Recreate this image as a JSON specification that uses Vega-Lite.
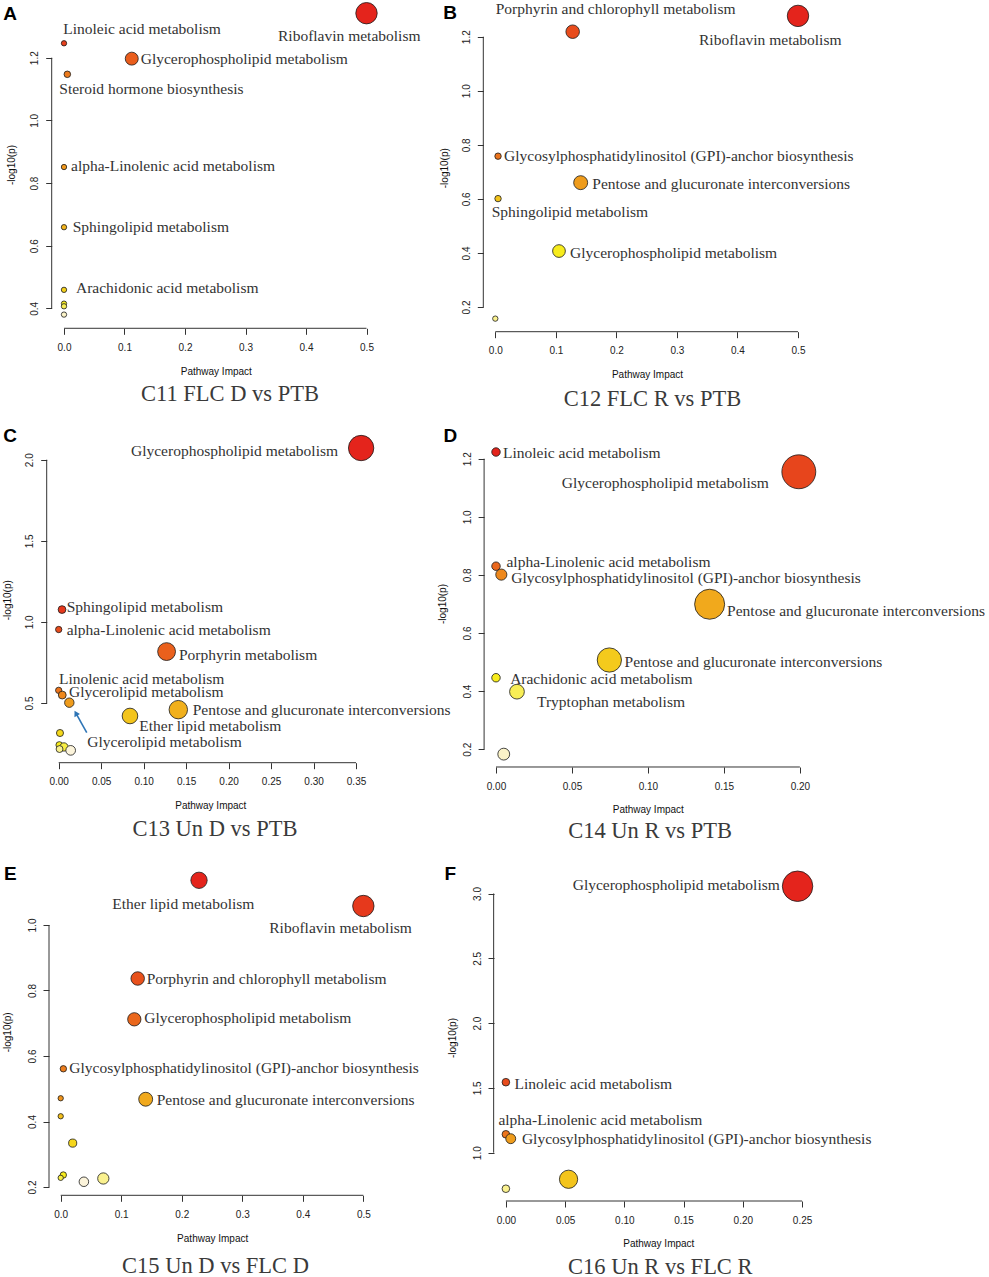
{
"$schema": "https://vega.github.io/schema/vega-lite/v6.json",
"background": "white",
"padding": {"left": 2, "top": 0, "right": 0, "bottom": 0},
"datasets": {
"axA": [{"x":0,"y":0.33631,"x2":0.5,"y2":0.33631},{"x":-0.02033,"y":0.4,"x2":-0.02033,"y2":1.2}],
"axB": [{"x":0,"y":0.10862,"x2":0.5,"y2":0.10862},{"x":-0.01982,"y":0.2,"x2":-0.01982,"y2":1.2}],
"axC": [{"x":0,"y":0.13194,"x2":0.35,"y2":0.13194},{"x":-0.01413,"y":0.5,"x2":-0.01413,"y2":2.0}],
"axD": [{"x":0,"y":0.13873,"x2":0.2,"y2":0.13873},{"x":-0.00783,"y":0.2,"x2":-0.00783,"y2":1.2}],
"axE": [{"x":0,"y":0.17466,"x2":0.5,"y2":0.17466},{"x":-0.01933,"y":0.2,"x2":-0.01933,"y2":1.0}],
"axF": [{"x":0,"y":0.62731,"x2":0.25,"y2":0.62731},{"x":-0.01033,"y":1.0,"x2":-0.01033,"y2":3.0}],
"pA": [{"pathway":"Riboflavin metabolism","x":0.5,"y":1.342},{"pathway":"Linoleic acid metabolism","x":0,"y":1.246},{"pathway":"Glycerophospholipid metabolism","x":0.112,"y":1.197},{"pathway":"Steroid hormone biosynthesis","x":0.0055,"y":1.147},{"pathway":"alpha-Linolenic acid metabolism","x":0,"y":0.851},{"pathway":"Sphingolipid metabolism","x":0,"y":0.659},{"pathway":"Arachidonic acid metabolism","x":0,"y":0.459},{"pathway":"other","x":0,"y":0.415},{"pathway":"other","x":0,"y":0.4065},{"pathway":"other","x":0,"y":0.38}],
"lA": [{"label":"Linoleic acid metabolism","x":-0.0012,"y":1.2906},{"label":"Riboflavin metabolism","x":0.3537,"y":1.2693},{"label":"Glycerophospholipid metabolism","x":0.1268,"y":1.1949},{"label":"Steroid hormone biosynthesis","x":-0.0078,"y":1.1011},{"label":"alpha-Linolenic acid metabolism","x":0.0116,"y":0.8543},{"label":"Sphingolipid metabolism","x":0.0144,"y":0.6596},{"label":"Arachidonic acid metabolism","x":0.0198,"y":0.4659}],
"pB": [{"pathway":"Riboflavin metabolism","x":0.5,"y":1.277},{"pathway":"Porphyrin and chlorophyll metabolism","x":0.1278,"y":1.2185},{"pathway":"Glycosylphosphatidylinositol (GPI)-anchor biosynthesis","x":0.0045,"y":0.758},{"pathway":"Pentose and glucuronate interconversions","x":0.141,"y":0.66},{"pathway":"Sphingolipid metabolism","x":0.0045,"y":0.601},{"pathway":"Glycerophospholipid metabolism","x":0.1052,"y":0.407},{"pathway":"other","x":0,"y":0.157}],
"lB": [{"label":"Porphyrin and chlorophyll metabolism","x":0.0007,"y":1.3014},{"label":"Riboflavin metabolism","x":0.3365,"y":1.1867},{"label":"Glycosylphosphatidylinositol (GPI)-anchor biosynthesis","x":0.0144,"y":0.7586},{"label":"Pentose and glucuronate interconversions","x":0.1602,"y":0.6539},{"label":"Sphingolipid metabolism","x":-0.0059,"y":0.5526},{"label":"Glycerophospholipid metabolism","x":0.1234,"y":0.4009}],
"pC": [{"pathway":"Glycerophospholipid metabolism","x":0.356,"y":2.072},{"pathway":"Sphingolipid metabolism","x":0.0039,"y":1.076},{"pathway":"alpha-Linolenic acid metabolism","x":0,"y":0.953},{"pathway":"Porphyrin metabolism","x":0.127,"y":0.817},{"pathway":"Linolenic acid metabolism","x":0,"y":0.578},{"pathway":"Glycerolipid metabolism","x":0.0042,"y":0.549},{"pathway":"Glycerolipid metabolism","x":0.0125,"y":0.502},{"pathway":"Pentose and glucuronate interconversions","x":0.1408,"y":0.459},{"pathway":"Ether lipid metabolism","x":0.0839,"y":0.42},{"pathway":"other","x":0.0015,"y":0.315},{"pathway":"other","x":0.0007,"y":0.241},{"pathway":"other","x":0.0062,"y":0.229},{"pathway":"other","x":0.001,"y":0.216},{"pathway":"other","x":0.0141,"y":0.208}],
"lC": [{"label":"Glycerophospholipid metabolism","x":0.0851,"y":2.0536},{"label":"Sphingolipid metabolism","x":0.0094,"y":1.0937},{"label":"alpha-Linolenic acid metabolism","x":0.0094,"y":0.9519},{"label":"Porphyrin metabolism","x":0.1416,"y":0.7959},{"label":"Linolenic acid metabolism","x":0.0004,"y":0.6498},{"label":"Glycerolipid metabolism","x":0.0121,"y":0.5697},{"label":"Pentose and glucuronate interconversions","x":0.1577,"y":0.4587},{"label":"Ether lipid metabolism","x":0.0949,"y":0.36},{"label":"Glycerolipid metabolism","x":0.0337,"y":0.2614}],
"arrowC": [{"x":0.033,"y":0.3169,"x2":0.0202,"y2":0.4371}],
"arrowHeadC": [{"x":0.0202,"y":0.4371}],
"pD": [{"pathway":"Linoleic acid metabolism","x":0,"y":1.223},{"pathway":"Glycerophospholipid metabolism","x":0.1993,"y":1.155},{"pathway":"alpha-Linolenic acid metabolism","x":0,"y":0.83},{"pathway":"Glycosylphosphatidylinositol (GPI)-anchor biosynthesis","x":0.0035,"y":0.801},{"pathway":"Pentose and glucuronate interconversions","x":0.1406,"y":0.699},{"pathway":"Pentose and glucuronate interconversions","x":0.0746,"y":0.507},{"pathway":"Arachidonic acid metabolism","x":0,"y":0.446},{"pathway":"Tryptophan metabolism","x":0.0138,"y":0.398},{"pathway":"other","x":0.0051,"y":0.183}],
"lD": [{"label":"Linoleic acid metabolism","x":0.0046,"y":1.2207},{"label":"Glycerophospholipid metabolism","x":0.0433,"y":1.1174},{"label":"alpha-Linolenic acid metabolism","x":0.0069,"y":0.8444},{"label":"Glycosylphosphatidylinositol (GPI)-anchor biosynthesis","x":0.01,"y":0.7883},{"label":"Pentose and glucuronate interconversions","x":0.1521,"y":0.6757},{"label":"Pentose and glucuronate interconversions","x":0.0846,"y":0.5012},{"label":"Arachidonic acid metabolism","x":0.0093,"y":0.4406},{"label":"Tryptophan metabolism","x":0.027,"y":0.3625}],
"pE": [{"pathway":"Ether lipid metabolism","x":0.2285,"y":1.1365},{"pathway":"Riboflavin metabolism","x":0.5,"y":1.058},{"pathway":"Porphyrin and chlorophyll metabolism","x":0.1272,"y":0.8366},{"pathway":"Glycerophospholipid metabolism","x":0.1216,"y":0.712},{"pathway":"Glycosylphosphatidylinositol (GPI)-anchor biosynthesis","x":0.0044,"y":0.561},{"pathway":"other","x":0,"y":0.471},{"pathway":"Pentose and glucuronate interconversions","x":0.1404,"y":0.468},{"pathway":"other","x":0,"y":0.416},{"pathway":"other","x":0.0198,"y":0.334},{"pathway":"other","x":0.0043,"y":0.2366},{"pathway":"other","x":0,"y":0.228},{"pathway":"other","x":0.0704,"y":0.226},{"pathway":"other","x":0.0383,"y":0.216}],
"lE": [{"label":"Ether lipid metabolism","x":0.0852,"y":1.065},{"label":"Riboflavin metabolism","x":0.3446,"y":0.9899},{"label":"Porphyrin and chlorophyll metabolism","x":0.1421,"y":0.836},{"label":"Glycerophospholipid metabolism","x":0.1381,"y":0.7169},{"label":"Glycosylphosphatidylinositol (GPI)-anchor biosynthesis","x":0.0142,"y":0.5634},{"label":"Pentose and glucuronate interconversions","x":0.1586,"y":0.4666}],
"pF": [{"pathway":"Glycerophospholipid metabolism","x":0.2462,"y":3.056},{"pathway":"Linoleic acid metabolism","x":0,"y":1.544},{"pathway":"alpha-Linolenic acid metabolism","x":0,"y":1.142},{"pathway":"Glycosylphosphatidylinositol (GPI)-anchor biosynthesis","x":0.0041,"y":1.108},{"pathway":"other","x":0.0529,"y":0.795},{"pathway":"other","x":0,"y":0.722}],
"lF": [{"label":"Glycerophospholipid metabolism","x":0.0564,"y":3.0633},{"label":"Linoleic acid metabolism","x":0.0073,"y":1.5278},{"label":"alpha-Linolenic acid metabolism","x":-0.0063,"y":1.25},{"label":"Glycosylphosphatidylinositol (GPI)-anchor biosynthesis","x":0.0135,"y":1.108}]
},
"concat": [
{"width": 327, "height": 327,
 "title": {"text": "C11 FLC D vs PTB", "offset": 7.2, "dx": 17.5, "frame": "group"},
 "encoding": {
  "x": {"field": "x", "type": "quantitative", "scale": {"domain": [-0.02479, 0.5157], "nice": false, "zero": false}, "axis": {"title": "Pathway Impact", "values": [0,0.1,0.2,0.3,0.4,0.5], "format": ".1f", "offset": -2.7, "titleX": 166.8, "titleY": 42.7}},
  "y": {"field": "y", "type": "quantitative", "scale": {"domain": [0.32764, 1.3714], "nice": false, "zero": false}, "axis": {"title": "-log10(p)", "values": [0.4,0.6,0.8,1.0,1.2], "format": ".1f", "offset": -2.7, "titleX": -40, "titleY": 160.5}}
 },
 "layer": [
  {"data": {"name": "axA"}, "mark": {"type": "rule", "color": "#333", "strokeWidth": 1}, "encoding": {"x2": {"field": "x2"}, "y2": {"field": "y2"}}},
  {"data": {"name": "pA"}, "mark": {"type": "circle", "opacity": 1, "stroke": "#1a1a1a", "strokeWidth": 0.8}, "encoding": {
    "color": {"field": "y", "type": "quantitative", "scale": {"domain": [0.38,0.4065,0.415,0.459,0.659,0.851,1.147,1.197,1.246,1.342], "range": ["#FBF3C8","#F8EE56","#F7EC1C","#F4D01C","#F2B31C","#EF971C","#EC7A1C","#E95D1C","#E7401C","#E4241C"], "interpolate": "rgb"}, "legend": null},
    "size": {"field": "x", "type": "quantitative", "scale": {"type": "pow", "exponent": 0.75, "domain": [0, 0.5], "range": [28.6, 457.3]}, "legend": null}}},
  {"data": {"name": "lA"}, "mark": {"type": "text", "align": "left", "baseline": "middle", "font": "Liberation Serif", "fontSize": 15.5, "color": "#333"}, "encoding": {"text": {"field": "label"}}},
  {"data": {"values": [{"letter": "A", "x": -0.1003, "y": 1.3194}]}, "mark": {"type": "text", "align": "left", "baseline": "alphabetic", "font": "Liberation Sans", "fontSize": 19, "fontWeight": "bold", "color": "#000"}, "encoding": {"text": {"field": "letter"}}}
 ]},
{"width": 327, "height": 327,
 "title": {"text": "C12 FLC R vs PTB", "offset": 8.2, "dx": 5, "frame": "group"},
 "encoding": {
  "x": {"field": "x", "type": "quantitative", "scale": {"domain": [-0.01867, 0.52148], "nice": false, "zero": false}, "axis": {"title": "Pathway Impact", "values": [0,0.1,0.2,0.3,0.4,0.5], "format": ".1f", "offset": 0.7, "titleX": 163, "titleY": 42.7}},
  "y": {"field": "y", "type": "quantitative", "scale": {"domain": [0.11121, 1.32098], "nice": false, "zero": false}, "axis": {"title": "-log10(p)", "values": [0.2,0.4,0.6,0.8,1.0,1.2], "format": ".1f", "offset": 0.7, "titleX": -39.3, "titleY": 163.7}}
 },
 "layer": [
  {"data": {"name": "axB"}, "mark": {"type": "rule", "color": "#333", "strokeWidth": 1}, "encoding": {"x2": {"field": "x2"}, "y2": {"field": "y2"}}},
  {"data": {"name": "pB"}, "mark": {"type": "circle", "opacity": 1, "stroke": "#1a1a1a", "strokeWidth": 0.8}, "encoding": {
    "color": {"field": "y", "type": "quantitative", "scale": {"domain": [0.157,0.407,0.601,0.66,0.758,1.2185,1.277], "range": ["#FAF18F","#F7EC1C","#F3C41C","#EF9C1C","#EC741C","#E84C1C","#E4241C"], "interpolate": "rgb"}, "legend": null},
    "size": {"field": "x", "type": "quantitative", "scale": {"type": "pow", "exponent": 0.75, "domain": [0, 0.5], "range": [28.7, 458.6]}, "legend": null}}},
  {"data": {"name": "lB"}, "mark": {"type": "text", "align": "left", "baseline": "middle", "font": "Liberation Serif", "fontSize": 15.5, "color": "#333"}, "encoding": {"text": {"field": "label"}}},
  {"data": {"values": [{"letter": "B", "x": -0.0859, "y": 1.2644}]}, "mark": {"type": "text", "align": "left", "baseline": "alphabetic", "font": "Liberation Sans", "fontSize": 19, "fontWeight": "bold", "color": "#000"}, "encoding": {"text": {"field": "letter"}}}
 ]},
{"width": 327, "height": 327,
 "title": {"text": "C13 Un D vs PTB", "offset": 7.8, "dx": 2.5, "frame": "group"},
 "encoding": {
  "x": {"field": "x", "type": "quantitative", "scale": {"domain": [-0.01142, 0.37351], "nice": false, "zero": false}, "axis": {"title": "Pathway Impact", "values": [0,0.05,0.1,0.15,0.2,0.25,0.3,0.35], "format": ".2f", "offset": -2.3, "titleX": 161.3, "titleY": 42.7}},
  "y": {"field": "y", "type": "quantitative", "scale": {"domain": [0.11776, 2.13379], "nice": false, "zero": false}, "axis": {"title": "-log10(p)", "values": [0.5,1.0,1.5,2.0], "format": ".1f", "offset": 2.3, "titleX": -39.4, "titleY": 161.7}}
 },
 "layer": [
  {"data": {"name": "axC"}, "mark": {"type": "rule", "color": "#333", "strokeWidth": 1}, "encoding": {"x2": {"field": "x2"}, "y2": {"field": "y2"}}},
  {"data": {"name": "pC"}, "mark": {"type": "circle", "opacity": 1, "stroke": "#1a1a1a", "strokeWidth": 0.8}, "encoding": {
    "color": {"field": "y", "type": "quantitative", "scale": {"domain": [0.208,0.216,0.229,0.241,0.315,0.42,0.459,0.502,0.549,0.578,0.817,0.953,1.076,2.072], "range": ["#FCF4DB","#FAF18F","#F8EE43","#F7EC1C","#F5D81C","#F3C41C","#F1B01C","#EF9C1C","#EE881C","#EC741C","#EA601C","#E84C1C","#E6381C","#E4241C"], "interpolate": "rgb"}, "legend": null},
    "size": {"field": "x", "type": "quantitative", "scale": {"type": "pow", "exponent": 0.75, "domain": [0, 0.356], "range": [40.1, 642.3]}, "legend": null}}},
  {"data": {"name": "arrowC"}, "mark": {"type": "rule", "color": "#2E75B6", "strokeWidth": 1.6}, "encoding": {"x2": {"field": "x2"}, "y2": {"field": "y2"}}},
  {"data": {"name": "arrowHeadC"}, "mark": {"type": "point", "shape": "triangle-up", "filled": true, "opacity": 1, "color": "#2E75B6", "size": 40, "angle": 331}},
  {"data": {"name": "lC"}, "mark": {"type": "text", "align": "left", "baseline": "middle", "font": "Liberation Serif", "fontSize": 15.5, "color": "#333"}, "encoding": {"text": {"field": "label"}}},
  {"data": {"values": [{"letter": "C", "x": -0.0652, "y": 2.111}]}, "mark": {"type": "text", "align": "left", "baseline": "alphabetic", "font": "Liberation Sans", "fontSize": 19, "fontWeight": "bold", "color": "#000"}, "encoding": {"text": {"field": "letter"}}}
 ]},
{"width": 327, "height": 327,
 "title": {"text": "C14 Un R vs PTB", "offset": 5.2, "dx": 2.6, "frame": "group"},
 "encoding": {
  "x": {"field": "x", "type": "quantitative", "scale": {"domain": [-0.0079, 0.20732], "nice": false, "zero": false}, "axis": {"title": "Pathway Impact", "values": [0,0.05,0.1,0.15,0.2], "format": ".2f", "offset": 2, "titleX": 163.8, "titleY": 42.7}},
  "y": {"field": "y", "type": "quantitative", "scale": {"domain": [0.14561, 1.27126], "nice": false, "zero": false}, "axis": {"title": "-log10(p)", "values": [0.2,0.4,0.6,0.8,1.0,1.2], "format": ".1f", "offset": -0.1, "titleX": -41.3, "titleY": 165.5}}
 },
 "layer": [
  {"data": {"name": "axD"}, "mark": {"type": "rule", "color": "#333", "strokeWidth": 1}, "encoding": {"x2": {"field": "x2"}, "y2": {"field": "y2"}}},
  {"data": {"name": "pD"}, "mark": {"type": "circle", "opacity": 1, "stroke": "#1a1a1a", "strokeWidth": 0.8}, "encoding": {
    "color": {"field": "y", "type": "quantitative", "scale": {"domain": [0.183,0.398,0.446,0.507,0.699,0.801,0.83,1.155,1.223], "range": ["#FBF3C8","#F8EE56","#F7EC1C","#F4CA1C","#F1A91C","#EE881C","#EA671C","#E7451C","#E4241C"], "interpolate": "rgb"}, "legend": null},
    "size": {"field": "x", "type": "quantitative", "scale": {"type": "pow", "exponent": 0.75, "domain": [0, 0.1993], "range": [71.9, 1150.3]}, "legend": null}}},
  {"data": {"name": "lD"}, "mark": {"type": "text", "align": "left", "baseline": "middle", "font": "Liberation Serif", "fontSize": 15.5, "color": "#333"}, "encoding": {"text": {"field": "label"}}},
  {"data": {"values": [{"letter": "D", "x": -0.0346, "y": 1.2585}]}, "mark": {"type": "text", "align": "left", "baseline": "alphabetic", "font": "Liberation Sans", "fontSize": 19, "fontWeight": "bold", "color": "#000"}, "encoding": {"text": {"field": "letter"}}}
 ]},
{"width": 327, "height": 327,
 "title": {"text": "C15 Un D vs FLC D", "offset": 12, "dx": 3, "frame": "group"},
 "encoding": {
  "x": {"field": "x", "type": "quantitative", "scale": {"domain": [-0.01933, 0.5209], "nice": false, "zero": false}, "axis": {"title": "Pathway Impact", "values": [0,0.1,0.2,0.3,0.4,0.5], "format": ".1f", "offset": -3.7, "titleX": 163.2, "titleY": 42.7}},
  "y": {"field": "y", "type": "quantitative", "scale": {"domain": [0.16336, 1.16183], "nice": false, "zero": false}, "axis": {"title": "-log10(p)", "values": [0.2,0.4,0.6,0.8,1.0], "format": ".1f", "offset": 0, "titleX": -41.7, "titleY": 159.8}}
 },
 "layer": [
  {"data": {"name": "axE"}, "mark": {"type": "rule", "color": "#333", "strokeWidth": 1}, "encoding": {"x2": {"field": "x2"}, "y2": {"field": "y2"}}},
  {"data": {"name": "pE"}, "mark": {"type": "circle", "opacity": 1, "stroke": "#1a1a1a", "strokeWidth": 0.8}, "encoding": {
    "color": {"field": "y", "type": "quantitative", "scale": {"domain": [0.216,0.226,0.228,0.2366,0.334,0.416,0.468,0.471,0.561,0.712,0.8366,1.058,1.1365], "range": ["#FCF4DB","#FAF18F","#F8EE43","#F7EC1C","#F5D61C","#F3BF1C","#F1A91C","#EF931C","#EC7D1C","#EA671C","#E8511C","#E6391C","#E4241C"], "interpolate": "rgb"}, "legend": null},
    "size": {"field": "x", "type": "quantitative", "scale": {"type": "pow", "exponent": 0.75, "domain": [0, 0.5], "range": [28.5, 456.6]}, "legend": null}}},
  {"data": {"name": "lE"}, "mark": {"type": "text", "align": "left", "baseline": "middle", "font": "Liberation Serif", "fontSize": 15.5, "color": "#333"}, "encoding": {"text": {"field": "label"}}},
  {"data": {"values": [{"letter": "E", "x": -0.0937, "y": 1.1365}]}, "mark": {"type": "text", "align": "left", "baseline": "alphabetic", "font": "Liberation Sans", "fontSize": 19, "fontWeight": "bold", "color": "#000"}, "encoding": {"text": {"field": "letter"}}}
 ]},
{"width": 327, "height": 327,
 "title": {"text": "C16 Un R vs FLC R", "offset": 7, "dx": 12.8, "frame": "group"},
 "encoding": {
  "x": {"field": "x", "type": "quantitative", "scale": {"domain": [-0.01847, 0.25754], "nice": false, "zero": false}, "axis": {"title": "Pathway Impact", "values": [0,0.05,0.1,0.15,0.2,0.25], "format": ".2f", "offset": 2, "titleX": 174.3, "titleY": 42.7}},
  "y": {"field": "y", "type": "quantitative", "scale": {"domain": [0.64275, 3.1659], "nice": false, "zero": false}, "axis": {"title": "-log10(p)", "values": [1.0,1.5,2.0,2.5,3.0], "format": ".1f", "offset": -10, "titleX": -42, "titleY": 165.5}}
 },
 "layer": [
  {"data": {"name": "axF"}, "mark": {"type": "rule", "color": "#333", "strokeWidth": 1}, "encoding": {"x2": {"field": "x2"}, "y2": {"field": "y2"}}},
  {"data": {"name": "pF"}, "mark": {"type": "circle", "opacity": 1, "stroke": "#1a1a1a", "strokeWidth": 0.8}, "encoding": {
    "color": {"field": "y", "type": "quantitative", "scale": {"domain": [0.722,0.795,1.108,1.142,1.544,3.056], "range": ["#FAF18F","#F3C41C","#EF9C1C","#EC741C","#E84C1C","#E4241C"], "interpolate": "rgb"}, "legend": null},
    "size": {"field": "x", "type": "quantitative", "scale": {"type": "pow", "exponent": 0.75, "domain": [0, 0.2462], "range": [58, 928]}, "legend": null}}},
  {"data": {"name": "lF"}, "mark": {"type": "text", "align": "left", "baseline": "middle", "font": "Liberation Serif", "fontSize": 15.5, "color": "#333"}, "encoding": {"text": {"field": "label"}}},
  {"data": {"values": [{"letter": "F", "x": -0.0518, "y": 3.102}]}, "mark": {"type": "text", "align": "left", "baseline": "alphabetic", "font": "Liberation Sans", "fontSize": 19, "fontWeight": "bold", "color": "#000"}, "encoding": {"text": {"field": "letter"}}}
 ]}
],
"columns": 2,
"bounds": "flush",
"spacing": {"row": 107, "column": 108},
"resolve": {"scale": {"color": "independent", "size": "independent"}},
"config": {
 "view": {"stroke": null},
 "axis": {"domain": false, "grid": false, "ticks": true, "tickColor": "#333", "tickSize": 6, "tickWidth": 1, "labelFont": "Liberation Sans", "labelFontSize": 10, "labelColor": "#222", "titleFont": "Liberation Sans", "titleFontSize": 10, "titleFontWeight": "normal", "titleColor": "#111", "labelFlush": false, "labelOverlap": false, "labelBound": false},
 "axisX": {"labelAngle": 0, "labelPadding": 8.1, "titleBaseline": "middle", "titleAlign": "center", "titleAngle": 0},
 "axisY": {"labelAngle": 270, "labelAlign": "center", "labelBaseline": "middle", "labelPadding": 11, "titleAngle": 270, "titleBaseline": "middle", "titleAlign": "center"},
 "title": {"font": "Liberation Serif", "fontSize": 22.5, "fontWeight": "normal", "color": "#3a3a3a", "orient": "bottom", "anchor": "middle"}
}
}
